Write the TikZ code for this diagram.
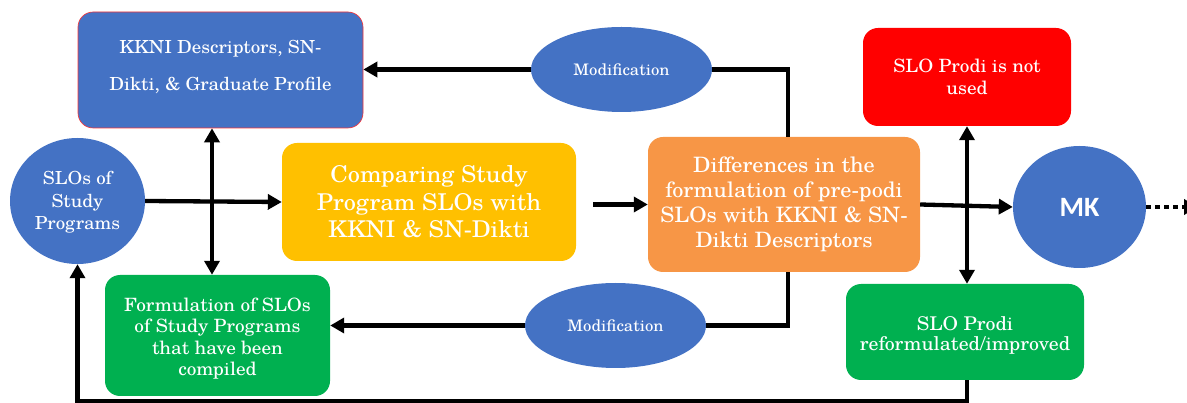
\documentclass[tikz,border=0pt]{standalone}
\usepackage{fontspec}
\setmainfont{texgyreschola-regular.otf}[FakeStretch=1.05]
\newfontfamily\mkfont{Carlito}[BoldFont=Carlito Bold]
\usetikzlibrary{arrows.meta,shapes.geometric,calc}

\definecolor{cblue}{HTML}{4472C4}
\definecolor{cyellow}{HTML}{FFC000}
\definecolor{corange}{HTML}{F79646}
\definecolor{cgreen}{HTML}{00B050}
\definecolor{cred}{HTML}{FF0000}

\tikzset{
  box/.style={rounded corners=15pt, text=white, align=center, inner sep=0pt},
  oval/.style={ellipse, fill=cblue, text=white, align=center, inner sep=0pt},
  txt/.style={text=white, align=center, inner sep=0pt},
  tip/.tip={Triangle[length=14pt,width=15pt]},
  arr/.style={line width=4.3pt, -tip},
  darr/.style={line width=4.3pt, tip-tip},
  plain/.style={line width=4.3pt}
}

\begin{document}
\begin{tikzpicture}[x=1pt,y=-1pt]
\useasboundingbox (0,0) rectangle (1187,403);

% left column
\node[box, fill=cblue, draw=cred!80, line width=0.6pt, minimum width=285pt, minimum height=116pt] (kkni) at (220.5,70) {};
\node[txt, font=\fontsize{18}{37}\selectfont] (kknitxt) at (220.5,67.5) {KKNI Descriptors, SN-\\Dikti, \& Graduate Profile};

\node[oval, minimum width=135pt, minimum height=126pt] (slos) at (77.5,201) {};
\node[txt, font=\fontsize{18}{22.5}\selectfont] (slostxt) at (77.5,202.5) {SLOs of\\Study\\Programs};

\node[box, fill=cgreen, minimum width=225pt, minimum height=121pt] (greenL) at (217.5,335.5) {};
\node[txt, font=\fontsize{18.3}{21.4}\selectfont] (greenLtxt) at (217.5,338.5) {Formulation of SLOs\\of Study Programs\\that have been\\compiled};

% middle
\node[box, fill=cyellow, minimum width=294pt, minimum height=118pt, font=\fontsize{23.1}{27.5}\selectfont] (yellow) at (429,202) {Comparing Study\\Program SLOs with\\KKNI \& SN-Dikti};

\node[oval, minimum width=181pt, minimum height=85pt, font=\fontsize{15.9}{19}\selectfont] (modtop) at (621.5,69.5) {Modification};
\node[oval, minimum width=181pt, minimum height=85pt, font=\fontsize{15.9}{19}\selectfont] (modbot) at (615.5,325.5) {Modification};

\node[box, fill=corange, minimum width=272pt, minimum height=135pt, font=\fontsize{21.2}{25}\selectfont] (orange) at (784,204.5) {Differences in the\\formulation of pre-podi\\SLOs with KKNI \& SN-\\Dikti Descriptors};

% right column
\node[box, fill=cred, minimum width=208pt, minimum height=98pt, font=\fontsize{18.3}{22.6}\selectfont] (red) at (967,77) {SLO Prodi is not\\used};
\node[box, fill=cgreen, minimum width=238pt, minimum height=96pt] (greenR) at (965,332) {};
\node[txt, font=\fontsize{18.9}{20.8}\selectfont] (greenRtxt) at (965,335.5) {SLO Prodi\\reformulated/improved};
\node[oval, minimum width=133pt, minimum height=122pt, font=\mkfont\bfseries\fontsize{28}{30}\selectfont] (mk) at (1079.5,207) {MK};

\coordinate (fb) at (77.5,401);
\coordinate (tail) at (1198,207);
\coordinate (ys) at ([xshift=17pt]yellow.east);

% connectors
\draw[arr] (slos.east) -- (yellow.west);
\draw[arr] (ys |- orange.west) -- (orange.west);
\draw[arr] (orange.east) -- (mk.west);
\draw[darr] ([xshift=-8.5pt]kkni.south) -- ([xshift=-5.5pt]greenL.north);
\draw[darr] (red.south) -- ([xshift=2pt]greenR.north);

\draw[plain] ([xshift=4pt]orange.north) |- (modtop.east);
\draw[arr] (modtop.west) -- (modtop.west -| kkni.east);
\draw[plain] ([xshift=4pt]orange.south) |- (modbot.east);
\draw[arr] (modbot.west) -- (modbot.west -| greenL.east);

\draw[arr] ([xshift=2pt]greenR.south) -- ([xshift=2pt]greenR.south |- fb) -- (fb) -- (slos.south);
\draw[line width=4.3pt, dash pattern=on 5pt off 4pt, -tip] (mk.east) -- (tail);
\end{tikzpicture}
\end{document}
